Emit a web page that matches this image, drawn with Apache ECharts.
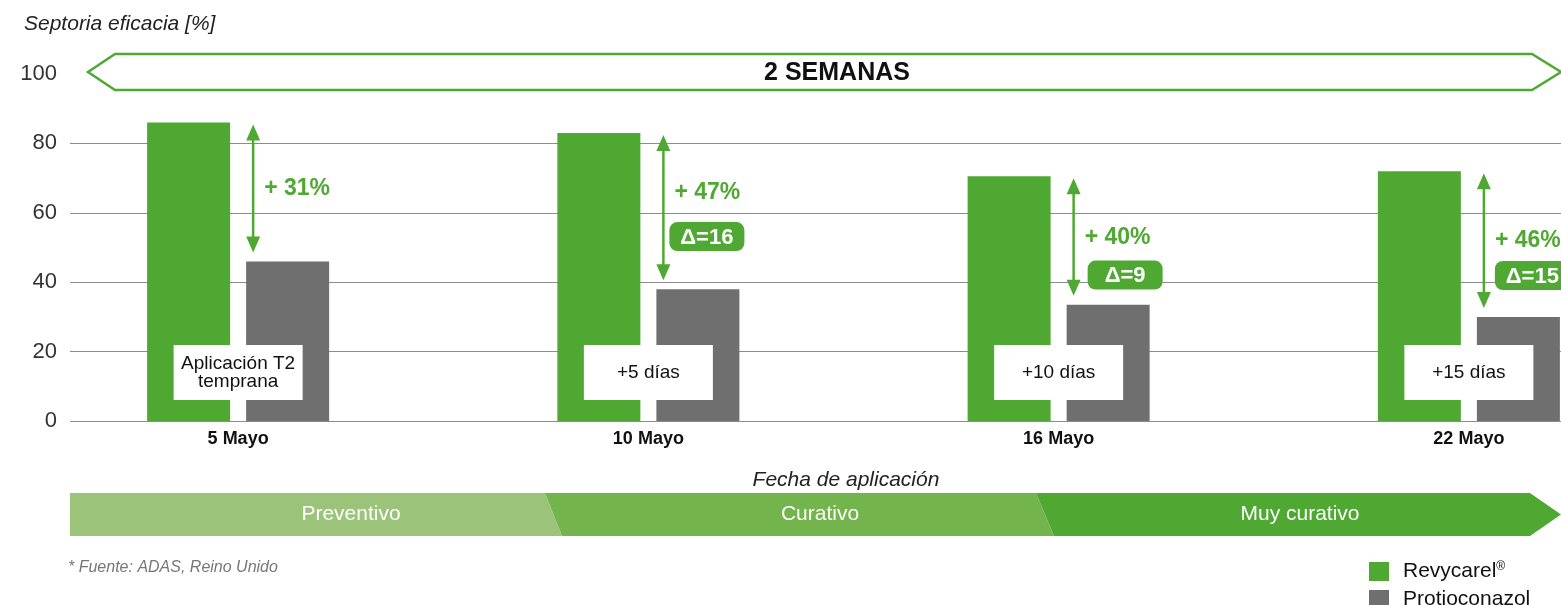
<!DOCTYPE html>
<html>
<head>
<meta charset="utf-8">
<script src="https://cdn.jsdelivr.net/npm/echarts@6/dist/echarts.min.js"></script>
<style>
  html, body { margin: 0; padding: 0; background: #ffffff; }
  #chart { width: 1561px; height: 605px; }
</style>
</head>
<body>
<div id="chart"></div>
<script>
// ---- data ----
const categories = ['5 Mayo', '10 Mayo', '16 Mayo', '22 Mayo'];
const revycarel = [86, 83, 70.5, 72];
const protioconazol = [46, 38, 33.5, 30];
const gainLabels = ['+ 31%', '+ 47%', '+ 40%', '+ 46%'];
const deltaLabels = ['', 'Δ=16', 'Δ=9', 'Δ=15'];
const timingLabels = ['Aplicación T2\ntemprana', '+5 días', '+10 días', '+15 días'];
const yTicks = [0, 20, 40, 60, 80, 100];
const phases = ['Preventivo', 'Curativo', 'Muy curativo'];
const seriesNames = ['Revycarel®', 'Protioconazol'];

// ---- style / layout ----
const GREEN = '#4fa832';
const GRAY = '#6f6f6f';
const FONT = '"Liberation Sans", Arial, Helvetica, sans-serif';
const pctDy = [0, -15, 1, 0];
const deltaDx = [0, 6, 14, 11];
const deltaDy = [0, 29, 38, 35];

const chart = echarts.init(document.getElementById('chart'), null, { renderer: 'canvas' });

function renderAnnot(params, api) {
  const i = params.dataIndex;
  const base = api.coord([i, 0]);
  const cx = base[0];
  const ax = cx + 15;
  const yTop = api.coord([i, api.value(1)])[1] + 2;
  const yBot = api.coord([i, api.value(2)])[1] - 9;
  const mid = (yTop + yBot) / 2;
  const children = [
    { type: 'line', shape: { x1: ax, y1: yTop + 12, x2: ax, y2: yBot - 12 },
      style: { stroke: GREEN, lineWidth: 2.5 } },
    { type: 'polygon', shape: { points: [[ax, yTop], [ax - 7, yTop + 16], [ax + 7, yTop + 16]] },
      style: { fill: GREEN } },
    { type: 'polygon', shape: { points: [[ax, yBot], [ax - 7, yBot - 16], [ax + 7, yBot - 16]] },
      style: { fill: GREEN } },
    { type: 'text', style: { x: ax + 11, y: mid + pctDy[i], text: gainLabels[i],
      fill: GREEN, font: 'bold 23px ' + FONT, textAlign: 'left', textVerticalAlign: 'middle' } },
    { type: 'rect', shape: { x: cx - 64.5, y: base[1] - 76, width: 129, height: 55 },
      style: { fill: '#ffffff' } },
    { type: 'text', style: { x: cx, y: base[1] - 48.5, text: timingLabels[i],
      fill: '#111111', font: '19px ' + FONT, lineHeight: 18,
      textAlign: 'center', textVerticalAlign: 'middle' } }
  ];
  if (deltaLabels[i]) {
    const bx = ax + deltaDx[i];
    const by = mid + deltaDy[i];
    children.push(
      { type: 'rect', shape: { x: bx, y: by - 14.5, width: 75, height: 29, r: 8 },
        style: { fill: GREEN } },
      { type: 'text', style: { x: bx + 37.5, y: by + 1, text: deltaLabels[i],
        fill: '#ffffff', font: 'bold 22px ' + FONT, textAlign: 'center', textVerticalAlign: 'middle' } }
    );
  }
  return { type: 'group', children: children };
}

const legendText = {
  fontSize: 21, color: '#111111', fontFamily: FONT, lineHeight: 20, padding: [0, 0, 0, 9],
  rich: { sup: { fontSize: 12, color: '#111111', padding: [0, 0, 9, 0], fontFamily: FONT } }
};

const option = {
  animation: false,
  backgroundColor: '#ffffff',
  textStyle: { fontFamily: FONT },
  grid: [
    { left: 70, right: 0, top: 74, height: 347, containLabel: false, outerBoundsMode: 'none' },
    { left: 33, width: 1641, top: 74, height: 347, containLabel: false, outerBoundsMode: 'none' }
  ],
  xAxis: [
    { gridIndex: 0, type: 'value', min: 0, max: 1, show: false },
    { gridIndex: 1, type: 'category', data: categories,
      axisLine: { show: false }, axisTick: { show: false },
      axisLabel: { margin: 9, fontSize: 18, fontWeight: 'bold', color: '#111111', fontFamily: FONT } }
  ],
  yAxis: [
    { gridIndex: 0, type: 'value', min: yTicks[0], max: yTicks[yTicks.length - 1], interval: 20,
      axisLine: { show: false }, axisTick: { show: false },
      axisLabel: { margin: 13, fontSize: 22, color: '#333333', fontFamily: FONT,
        verticalAlign: 'middle', padding: [0, 0, 18, 0] },
      splitLine: { show: true, showMaxLine: false, lineStyle: { color: '#8c8c8c', width: 1.2 } } },
    { gridIndex: 1, type: 'value', min: 0, max: 100, show: false, splitLine: { show: false } }
  ],
  legend: [
    { data: [seriesNames[0]], left: 1369, top: 561,
      itemWidth: 20, itemHeight: 19, icon: 'rect', padding: 0,
      formatter: function (n) { return n.replace('®', '{sup|®}'); },
      textStyle: legendText },
    { data: [seriesNames[1]], left: 1369, top: 589,
      itemWidth: 20, itemHeight: 19, icon: 'rect', padding: 0,
      textStyle: legendText }
  ],
  series: [
    { name: seriesNames[0], type: 'bar', xAxisIndex: 1, yAxisIndex: 1, data: revycarel,
      barWidth: 83, barGap: '19.3%', itemStyle: { color: GREEN } },
    { name: seriesNames[1], type: 'bar', xAxisIndex: 1, yAxisIndex: 1, data: protioconazol,
      barWidth: 83, barGap: '19.3%', itemStyle: { color: GRAY } },
    { name: 'annot', type: 'custom', xAxisIndex: 1, yAxisIndex: 1, z: 5, clip: false,
      renderItem: renderAnnot,
      encode: { x: 0, y: [1, 2] },
      data: categories.map(function (c, i) { return [i, revycarel[i], protioconazol[i]]; }) }
  ],
  graphic: [
    { type: 'text', left: 24, top: 14, z: 100,
      style: { text: 'Septoria eficacia [%]', font: 'italic 21px ' + FONT, fill: '#222222' } },
    { type: 'polygon', z: 100,
      shape: { points: [[88, 72], [115, 54], [1532, 54], [1561, 72], [1532, 90], [115, 90]] },
      style: { fill: '#ffffff', stroke: GREEN, lineWidth: 2.5 } },
    { type: 'text', z: 101, x: 837, y: 73,
      style: { text: '2 SEMANAS', font: 'bold 25px ' + FONT, fill: '#111111',
        textAlign: 'center', textVerticalAlign: 'middle' } },
    { type: 'text', z: 100, x: 846, y: 480,
      style: { text: 'Fecha de aplicación', font: 'italic 21px ' + FONT, fill: '#222222',
        textAlign: 'center', textVerticalAlign: 'middle' } },
    { type: 'polygon', z: 100,
      shape: { points: [[70, 493], [545, 493], [562, 536], [70, 536]] },
      style: { fill: '#9bc47a' } },
    { type: 'polygon', z: 100,
      shape: { points: [[545, 493], [1036, 493], [1054, 536], [562, 536]] },
      style: { fill: '#74b44c' } },
    { type: 'polygon', z: 100,
      shape: { points: [[1036, 493], [1530, 493], [1561, 514.5], [1530, 536], [1054, 536]] },
      style: { fill: GREEN } },
    { type: 'text', z: 101, x: 351, y: 514,
      style: { text: phases[0], font: '21px ' + FONT, fill: '#ffffff', textAlign: 'center', textVerticalAlign: 'middle' } },
    { type: 'text', z: 101, x: 820, y: 514,
      style: { text: phases[1], font: '21px ' + FONT, fill: '#ffffff', textAlign: 'center', textVerticalAlign: 'middle' } },
    { type: 'text', z: 101, x: 1300, y: 514,
      style: { text: phases[2], font: '21px ' + FONT, fill: '#ffffff', textAlign: 'center', textVerticalAlign: 'middle' } },
    { type: 'text', z: 100, x: 68, y: 568,
      style: { text: '* Fuente: ADAS, Reino Unido', font: 'italic 16px ' + FONT, fill: '#777777',
        textAlign: 'left', textVerticalAlign: 'middle' } }
  ]
};

chart.setOption(option);
</script>
</body>
</html>
